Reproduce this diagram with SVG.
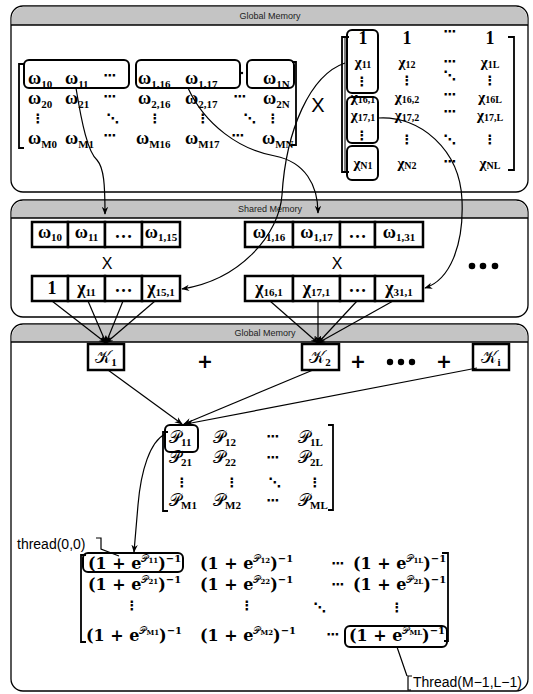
<svg xmlns="http://www.w3.org/2000/svg" width="533" height="694" viewBox="0 0 533 694">
<style>
.pn{fill:#fff;stroke:#000;stroke-width:1.3}
.hd{fill:#c4c4c4;stroke:none}
.hl{stroke:#000;stroke-width:1.5}
.ht{font-family:"Liberation Sans",Arial,sans-serif;font-size:9px;fill:#222;text-anchor:middle}
.m{font-family:"Liberation Serif","DejaVu Serif",serif;font-weight:bold;font-size:18px;fill:#000}
.xm{font-size:15px}
.sg{font-family:"DejaVu Serif","Liberation Serif",serif;font-weight:bold;font-size:16px;fill:#000}
.sb{font-size:11px}
.xm .sb{font-size:10px}
.mid{text-anchor:middle}
.dt{font-family:"DejaVu Sans",sans-serif;font-weight:bold;font-size:13px;text-anchor:middle}
.pl{font-family:"DejaVu Sans",sans-serif;font-weight:bold;font-size:19px;text-anchor:middle}
.cal{font-family:"DejaVu Serif","DejaVu Sans","Noto Sans",serif;font-weight:normal}
.rb{fill:none;stroke:#000;stroke-width:2}
.br{fill:none;stroke:#000;stroke-width:1.8}
.cell{fill:#fff;stroke:#000;stroke-width:2.5}
.xs{font-family:"Liberation Sans",Arial,sans-serif;fill:#000}
.lb{font-family:"Liberation Sans",Arial,sans-serif;font-size:14px;fill:#000}
.ln{fill:none;stroke:#000;stroke-width:1.2}
</style>
<defs>
<marker id="ah" viewBox="0 0 10 10" refX="9" refY="5" markerWidth="8" markerHeight="8" orient="auto" markerUnits="userSpaceOnUse"><path d="M0,1 L10,5 L0,9 L3,5 Z" fill="#000"/></marker>
</defs>

<g id="panel-global-top">
<rect class="pn" x="11" y="6" width="517" height="186" rx="12"/>
<path class="hd" d="M11.7,25 V18 A12,12 0 0 1 23,6.7 H516 A12,12 0 0 1 527.3,18 V25 Z"/>
<line class="hl" x1="11" y1="25" x2="528" y2="25"/>
<text class="ht" x="270" y="19">Global Memory</text>
</g>

<g id="panel-shared">
<rect class="pn" x="11" y="200" width="517" height="117" rx="12"/>
<path class="hd" d="M11.7,218 V212 A12,12 0 0 1 23,200.7 H516 A12,12 0 0 1 527.3,212 V218 Z"/>
<line class="hl" x1="11" y1="218" x2="528" y2="218"/>
<text class="ht" x="270" y="212">Shared Memory</text>
</g>

<g id="panel-global-bottom">
<rect class="pn" x="11" y="324" width="517" height="367" rx="12"/>
<path class="hd" d="M11.7,342 V336 A12,12 0 0 1 23,324.7 H516 A12,12 0 0 1 527.3,336 V342 Z"/>
<line class="hl" x1="11" y1="342" x2="528" y2="342"/>
<text class="ht" x="265" y="336">Global Memory</text>
</g>

<g id="matrix-W">
<path class="br" d="M24,64 H19 V148 H24"/>
<path class="br" d="M292,62 H296 V145 H291"/>
<rect class="rb" x="24" y="60" width="105" height="28" rx="5"/>
<rect class="rb" x="136" y="60" width="104" height="28" rx="5"/>
<rect class="rb" x="247" y="60" width="47" height="28" rx="5"/>
<circle cx="242" cy="73" r="1.2"/>
<text class="m" x="28" y="84">ω<tspan class="sb" dy="4">10</tspan></text>
<text class="m" x="65" y="84">ω<tspan class="sb" dy="4">11</tspan></text>
<text class="dt" x="110" y="80">⋯</text>
<text class="m" x="138" y="84">ω<tspan class="sb" dy="4">1,16</tspan></text>
<text class="m" x="185" y="84">ω<tspan class="sb" dy="4">1,17</tspan></text>
<text class="m" x="263" y="84">ω<tspan class="sb" dy="4">1N</tspan></text>
<text class="m" x="28" y="104">ω<tspan class="sb" dy="4">20</tspan></text>
<text class="m" x="65" y="104">ω<tspan class="sb" dy="4">21</tspan></text>
<text class="dt" x="110" y="101">⋯</text>
<text class="m" x="138" y="104">ω<tspan class="sb" dy="4">2,16</tspan></text>
<text class="m" x="185" y="104">ω<tspan class="sb" dy="4">2,17</tspan></text>
<text class="dt" x="240" y="101">⋯</text>
<text class="m" x="263" y="104">ω<tspan class="sb" dy="4">2N</tspan></text>
<text class="dt" x="38" y="123">⋮</text>
<text class="dt" x="113" y="123">⋱</text>
<text class="dt" x="155" y="123">⋮</text>
<text class="dt" x="203" y="123">⋮</text>
<text class="dt" x="250" y="123">⋱</text>
<text class="dt" x="273" y="123">⋮</text>
<text class="m" x="28" y="144">ω<tspan class="sb" dy="4">M0</tspan></text>
<text class="m" x="65" y="144">ω<tspan class="sb" dy="4">M1</tspan></text>
<text class="dt" x="110" y="140">⋯</text>
<text class="m" x="136" y="144">ω<tspan class="sb" dy="4">M16</tspan></text>
<text class="m" x="185" y="144">ω<tspan class="sb" dy="4">M17</tspan></text>
<text class="dt" x="238" y="140">⋯</text>
<text class="m" x="262" y="144">ω<tspan class="sb" dy="4">MN</tspan></text>
</g>

<g id="times-top">
<text class="xs" x="318" y="112" font-size="20" text-anchor="middle">X</text>
</g>

<g id="matrix-X">
<path class="br" d="M349,37 H342 V172 H349"/>
<line x1="345" y1="38" x2="345" y2="171" stroke="#000" stroke-width="1"/>
<path class="br" d="M508,37 H514 V170 H508"/>
<rect class="rb" x="347" y="30" width="31" height="63" rx="5"/>
<rect class="rb" x="347" y="97" width="31" height="46" rx="5"/>
<rect class="rb" x="347" y="146" width="31" height="34" rx="5"/>
<text class="m mid" x="363" y="44">1</text>
<text class="m mid" x="407" y="44">1</text>
<text class="dt" x="450" y="36">⋯</text>
<text class="m mid" x="490" y="44">1</text>
<text class="m xm mid" x="363" y="67">χ<tspan class="sb" dy="1">11</tspan></text>
<text class="m xm mid" x="407" y="67">χ<tspan class="sb" dy="1">12</tspan></text>
<text class="dt" x="450" y="66">⋯</text>
<text class="m xm mid" x="490" y="67">χ<tspan class="sb" dy="1">1L</tspan></text>
<text class="dt" x="362" y="86">⋮</text>
<text class="dt" x="407" y="85">⋮</text>
<text class="dt" x="450" y="80">⋱</text>
<text class="dt" x="490" y="85">⋮</text>
<text class="m xm mid" x="363" y="102">χ<tspan class="sb" dy="1">16,1</tspan></text>
<text class="m xm mid" x="407" y="102">χ<tspan class="sb" dy="1">16,2</tspan></text>
<text class="dt" x="450" y="99">⋯</text>
<text class="m xm mid" x="490" y="102">χ<tspan class="sb" dy="1">16L</tspan></text>
<text class="m xm mid" x="363" y="120">χ<tspan class="sb" dy="1">17,1</tspan></text>
<text class="m xm mid" x="407" y="120">χ<tspan class="sb" dy="1">17,2</tspan></text>
<text class="dt" x="450" y="116">⋯</text>
<text class="m xm mid" x="490" y="120">χ<tspan class="sb" dy="1">17,L</tspan></text>
<text class="dt" x="362" y="140">⋮</text>
<text class="dt" x="407" y="144">⋮</text>
<text class="dt" x="450" y="144">⋱</text>
<text class="dt" x="490" y="144">⋮</text>
<text class="m xm mid" x="363" y="168">χ<tspan class="sb" dy="1">N1</tspan></text>
<text class="m xm mid" x="407" y="168">χ<tspan class="sb" dy="1">N2</tspan></text>
<text class="dt" x="450" y="166">⋯</text>
<text class="m xm mid" x="490" y="168">χ<tspan class="sb" dy="1">NL</tspan></text>
</g>

<g id="shared-W-1">
<rect class="cell" x="32" y="222" width="36" height="25"/>
<rect class="cell" x="68" y="222" width="37" height="25"/>
<rect class="cell" x="105" y="222" width="37" height="25"/>
<rect class="cell" x="142" y="222" width="38" height="25"/>
<text class="m mid" x="50" y="238">ω<tspan class="sb" dy="3">10</tspan></text>
<text class="m mid" x="86.5" y="238">ω<tspan class="sb" dy="3">11</tspan></text>
<text class="m mid" x="123.5" y="238">…</text>
<text class="m mid" x="161" y="238">ω<tspan class="sb" dy="3">1,15</tspan></text>
</g>
<g id="times-1"><text class="xs" x="107" y="269" font-size="16" text-anchor="middle">X</text></g>
<g id="shared-X-1">
<rect class="cell" x="32" y="276" width="36" height="25"/>
<rect class="cell" x="68" y="276" width="37" height="25"/>
<rect class="cell" x="105" y="276" width="37" height="25"/>
<rect class="cell" x="142" y="276" width="38" height="25"/>
<text class="m mid" x="52" y="294">1</text>
<text class="m mid" x="86.5" y="294">χ<tspan class="sb" dy="2">11</tspan></text>
<text class="m mid" x="123.5" y="292">…</text>
<text class="m mid" x="161" y="294">χ<tspan class="sb" dy="2">15,1</tspan></text>
</g>

<g id="shared-W-2">
<rect class="cell" x="245" y="222" width="48" height="25"/>
<rect class="cell" x="293" y="222" width="47" height="25"/>
<rect class="cell" x="340" y="222" width="35" height="25"/>
<rect class="cell" x="375" y="222" width="48" height="25"/>
<text class="m mid" x="269" y="238">ω<tspan class="sb" dy="3">1,16</tspan></text>
<text class="m mid" x="316.5" y="238">ω<tspan class="sb" dy="3">1,17</tspan></text>
<text class="m mid" x="357.5" y="238">…</text>
<text class="m mid" x="399" y="238">ω<tspan class="sb" dy="3">1,31</tspan></text>
</g>
<g id="times-2"><text class="xs" x="337" y="269" font-size="16" text-anchor="middle">X</text></g>
<g id="shared-X-2">
<rect class="cell" x="245" y="276" width="48" height="25"/>
<rect class="cell" x="293" y="276" width="47" height="25"/>
<rect class="cell" x="340" y="276" width="35" height="25"/>
<rect class="cell" x="375" y="276" width="48" height="25"/>
<text class="m mid" x="269" y="294">χ<tspan class="sb" dy="2">16,1</tspan></text>
<text class="m mid" x="316.5" y="294">χ<tspan class="sb" dy="2">17,1</tspan></text>
<text class="m mid" x="357.5" y="292">…</text>
<text class="m mid" x="399" y="294">χ<tspan class="sb" dy="2">31,1</tspan></text>
</g>
<g id="more-shared">
<circle cx="472" cy="266" r="3.3"/><circle cx="483" cy="266" r="3.3"/><circle cx="495" cy="266" r="3.3"/>
</g>

<g id="K1">
<rect class="cell" x="88" y="344" width="36" height="26"/>
<text class="m mid" x="106" y="363"><tspan class="cal" font-size="17">𝒦</tspan><tspan class="sb" dy="3">1</tspan></text>
</g>
<g id="plus-1"><text class="pl" x="205" y="368">+</text></g>
<g id="K2">
<rect class="cell" x="302" y="344" width="37" height="26"/>
<text class="m mid" x="320" y="363"><tspan class="cal" font-size="17">𝒦</tspan><tspan class="sb" dy="3">2</tspan></text>
</g>
<g id="plus-2"><text class="pl" x="358" y="368">+</text></g>
<g id="more-K"><circle cx="390" cy="362" r="3.2"/><circle cx="401" cy="362" r="3.2"/><circle cx="412" cy="362" r="3.2"/></g>
<g id="plus-3"><text class="pl" x="444" y="368">+</text></g>
<g id="Ki">
<rect class="cell" x="473" y="344" width="36" height="26"/>
<text class="m mid" x="491" y="363"><tspan class="cal" font-size="17">𝒦</tspan><tspan class="sb" dy="3">i</tspan></text>
</g>

<g id="matrix-P">
<path class="br" d="M168,432 H163 V511 H168"/>
<path class="br" d="M328,425 H333 V510 H328"/>
<rect class="rb" x="165" y="425" width="33" height="27" rx="5"/>
<text class="m" x="169" y="443"><tspan class="cal" font-size="17">𝒫</tspan><tspan class="sb" dy="3">11</tspan></text>
<text class="m" x="213" y="443"><tspan class="cal" font-size="17">𝒫</tspan><tspan class="sb" dy="3">12</tspan></text>
<text class="dt" x="273" y="441">⋯</text>
<text class="m" x="298" y="443"><tspan class="cal" font-size="17">𝒫</tspan><tspan class="sb" dy="3">1L</tspan></text>
<text class="m" x="169" y="463"><tspan class="cal" font-size="17">𝒫</tspan><tspan class="sb" dy="3">21</tspan></text>
<text class="m" x="213" y="463"><tspan class="cal" font-size="17">𝒫</tspan><tspan class="sb" dy="3">22</tspan></text>
<text class="dt" x="273" y="462">⋯</text>
<text class="m" x="298" y="463"><tspan class="cal" font-size="17">𝒫</tspan><tspan class="sb" dy="3">2L</tspan></text>
<text class="dt" x="182" y="487">⋮</text>
<text class="dt" x="232" y="487">⋮</text>
<text class="dt" x="275" y="487">⋱</text>
<text class="dt" x="315" y="487">⋮</text>
<text class="m" x="169" y="506"><tspan class="cal" font-size="17">𝒫</tspan><tspan class="sb" dy="3">M1</tspan></text>
<text class="m" x="213" y="506"><tspan class="cal" font-size="17">𝒫</tspan><tspan class="sb" dy="3">M2</tspan></text>
<text class="dt" x="273" y="505">⋯</text>
<text class="m" x="298" y="506"><tspan class="cal" font-size="17">𝒫</tspan><tspan class="sb" dy="3">ML</tspan></text>
</g>

<g id="matrix-sigmoid">
<path class="br" d="M86,555 H81 V642 H86"/>
<path class="br" d="M442,553 H448 V641 H444"/>
<rect class="rb" x="83" y="553" width="100" height="19" rx="5"/>
<rect class="rb" x="345" y="626" width="102" height="21" rx="5"/>
<text class="sg" x="88" y="569">(1 + e<tspan class="cal" font-size="10" dy="-7">𝒫</tspan><tspan font-size="7" dy="1">11</tspan><tspan dy="6">)</tspan><tspan font-size="10" dy="-7">−1</tspan></text>
<text class="sg" x="200" y="569">(1 + e<tspan class="cal" font-size="10" dy="-7">𝒫</tspan><tspan font-size="7" dy="1">12</tspan><tspan dy="6">)</tspan><tspan font-size="10" dy="-7">−1</tspan></text>
<text class="dt" x="338" y="568">⋯</text>
<text class="sg" x="353" y="569">(1 + e<tspan class="cal" font-size="10" dy="-7">𝒫</tspan><tspan font-size="7" dy="1">1L</tspan><tspan dy="6">)</tspan><tspan font-size="10" dy="-7">−1</tspan></text>
<text class="sg" x="88" y="590">(1 + e<tspan class="cal" font-size="10" dy="-7">𝒫</tspan><tspan font-size="7" dy="1">21</tspan><tspan dy="6">)</tspan><tspan font-size="10" dy="-7">−1</tspan></text>
<text class="sg" x="200" y="590">(1 + e<tspan class="cal" font-size="10" dy="-7">𝒫</tspan><tspan font-size="7" dy="1">22</tspan><tspan dy="6">)</tspan><tspan font-size="10" dy="-7">−1</tspan></text>
<text class="dt" x="338" y="589">⋯</text>
<text class="sg" x="353" y="590">(1 + e<tspan class="cal" font-size="10" dy="-7">𝒫</tspan><tspan font-size="7" dy="1">2L</tspan><tspan dy="6">)</tspan><tspan font-size="10" dy="-7">−1</tspan></text>
<text class="dt" x="132" y="610">⋮</text>
<text class="dt" x="247" y="610">⋮</text>
<text class="dt" x="320" y="612">⋱</text>
<text class="dt" x="397" y="612">⋮</text>
<text class="sg" x="86" y="641">(1 + e<tspan class="cal" font-size="10" dy="-7">𝒫</tspan><tspan font-size="7" dy="1">M1</tspan><tspan dy="6">)</tspan><tspan font-size="10" dy="-7">−1</tspan></text>
<text class="sg" x="200" y="641">(1 + e<tspan class="cal" font-size="10" dy="-7">𝒫</tspan><tspan font-size="7" dy="1">M2</tspan><tspan dy="6">)</tspan><tspan font-size="10" dy="-7">−1</tspan></text>
<text class="dt" x="333" y="639">⋯</text>
<text class="sg" x="349" y="641">(1 + e<tspan class="cal" font-size="10" dy="-7">𝒫</tspan><tspan font-size="7" dy="1">ML</tspan><tspan dy="6">)</tspan><tspan font-size="10" dy="-7">−1</tspan></text>
</g>

<g id="label-thread00">
<text class="lb" x="17" y="549">thread(0,0)</text>
<path class="ln" d="M96,538 H101 V549 L119,556"/>
</g>
<g id="label-threadML">
<text class="lb" x="413" y="687">Thread(M−1,L−1)</text>
<path class="ln" d="M397,647 L407,676 M412,676 H408 V690 H411"/>
</g>

<g id="connectors">
<path class="ln" marker-end="url(#ah)" d="M76,88 C82,125 88,152 97,160 C104,168 105,185 105,214"/>
<path class="ln" marker-end="url(#ah)" d="M188,88 C205,125 240,150 275,156 C305,162 318,185 318,213"/>
<path class="ln" marker-end="url(#ah)" d="M345,63 C310,75 286,130 282,195 C279,235 240,280 182,289"/>
<path class="ln" marker-end="url(#ah)" d="M378,118 C420,115 460,150 462,200 C464,245 450,280 425,288"/>
<path class="ln" marker-end="url(#ah)" d="M52,301 L106,343"/>
<path class="ln" marker-end="url(#ah)" d="M88,301 L106,343"/>
<path class="ln" marker-end="url(#ah)" d="M123,301 L106,343"/>
<path class="ln" marker-end="url(#ah)" d="M155,301 L106,343"/>
<path class="ln" marker-end="url(#ah)" d="M270,301 L318,343"/>
<path class="ln" marker-end="url(#ah)" d="M318,301 L318,343"/>
<path class="ln" marker-end="url(#ah)" d="M357,301 L318,343"/>
<path class="ln" marker-end="url(#ah)" d="M393,301 L318,343"/>
<path class="ln" marker-end="url(#ah)" d="M108,370 L182,424"/>
<path class="ln" marker-end="url(#ah)" d="M313,370 L184,424"/>
<path class="ln" marker-end="url(#ah)" d="M477,368 L186,424"/>
<path class="ln" marker-end="url(#ah)" d="M165,434 C150,442 141,470 138,505 L134,552"/>
</g>
</svg>
